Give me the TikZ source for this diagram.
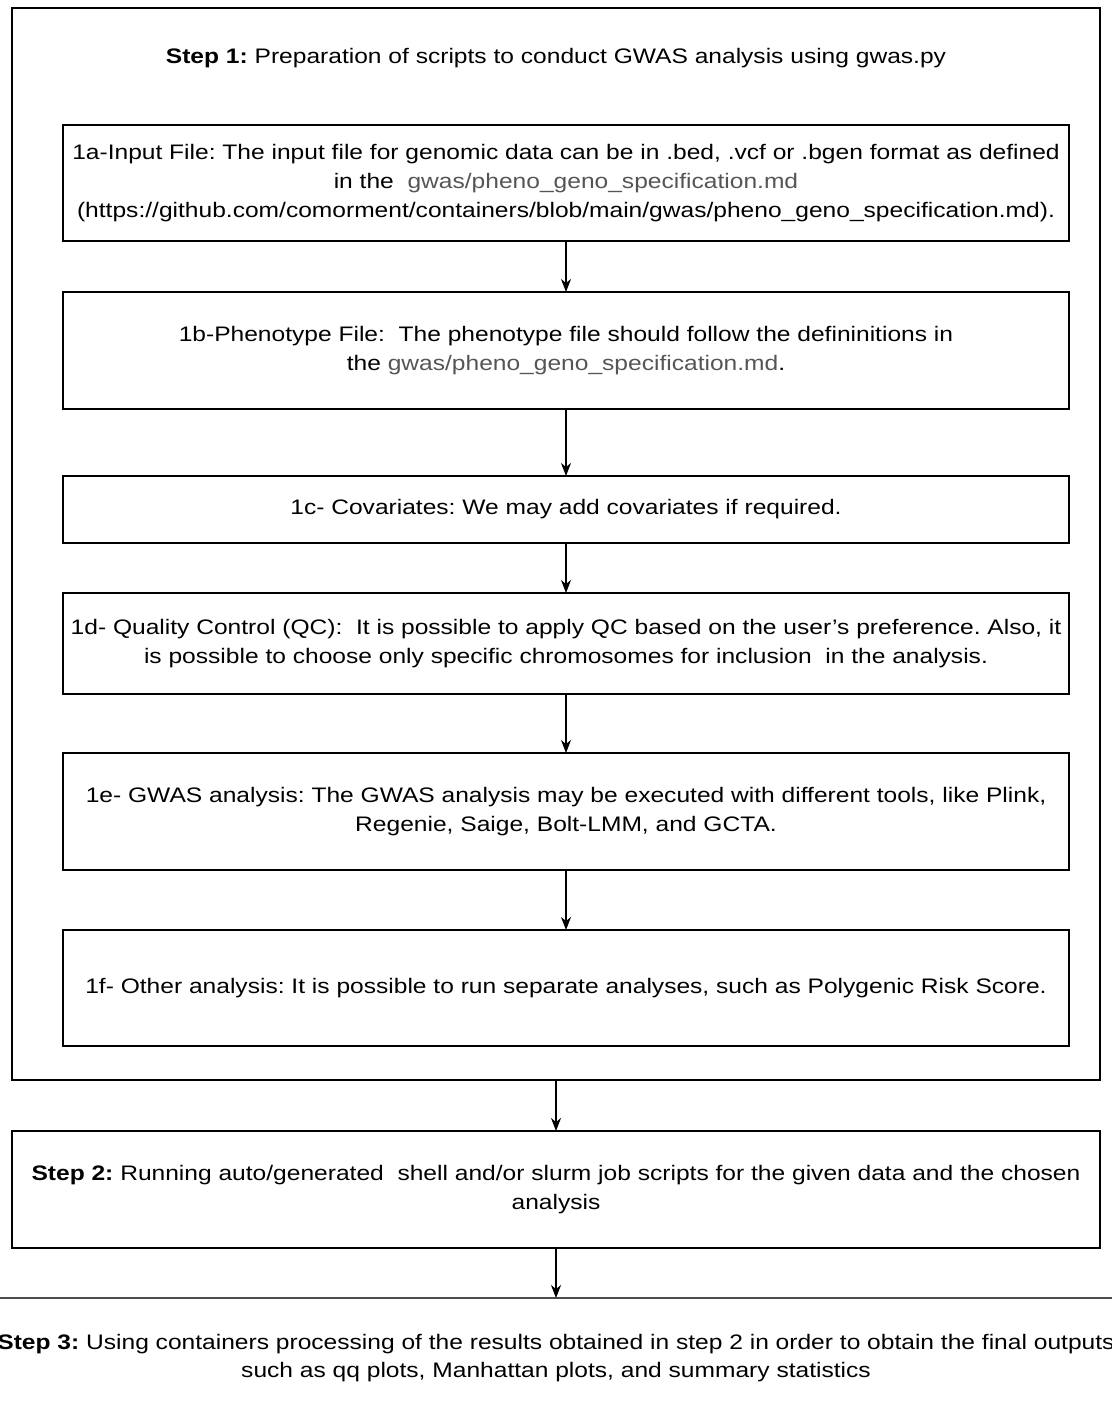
\documentclass[tikz,border=0pt]{standalone}
\usepackage{fontspec}
\setmainfont[FakeStretch=1.17]{Liberation Sans}
\usepackage{tikz}
\usetikzlibrary{arrows.meta}
\definecolor{pathgray}{HTML}{555555}
\newcommand{\mdfile}{{\color{pathgray}gwas/pheno\_geno\_specification.md}}
\frenchspacing

\begin{document}
\begin{tikzpicture}[x=0.5pt, y=-0.5pt,
    every node/.style = {font=\fontsize{10.5}{14.3}\selectfont},
    outer/.style = {rectangle, draw, line width=0.6pt,% big step frames
                    minimum width=544pt, inner sep=0pt, outer sep=0pt},
    sub/.style   = {rectangle, draw, line width=0.6pt, align=center,% sub steps of step 1
                    minimum width=503pt, inner sep=0pt, outer sep=0pt},
    txt/.style   = {align=center, inner sep=0pt},
    arr/.style   = {-{Stealth[length=6.5pt,width=5pt,inset=2pt]}, line width=0.6pt},
                        ]
\clip (0,0) rectangle (1112,1412);
% step 1 frame
\node[outer, minimum height=536pt] (S1) at (556,544) {};
\node[txt] (S1t) at (556,58) {\textbf{Step 1:} Preparation of scripts to conduct GWAS analysis using gwas.py};
% sub steps
\node[sub, minimum height=58pt] (A) at (566,183) {1a-Input File: The input file for genomic data can be in .bed, .vcf or .bgen format as defined\\
 in the \ \mdfile\\
 (https://github.com/comorment/containers/blob/main/gwas/pheno\_geno\_specification.md).};
\node[sub, minimum height=58.5pt] (B) at (566,350.5) {1b-Phenotype File: \ The phenotype file should follow the defininitions in\\
 the \mdfile.};
\node[sub, minimum height=33.5pt] (C) at (566,509.5) {1c- Covariates: We may add covariates if required.};
\node[sub, minimum height=50.5pt] (D) at (566,643.5) {1d- Quality Control (QC): \ It is possible to apply QC based on the user's preference. Also, it\\
 is possible to choose only specific chromosomes for inclusion \ in the analysis.};
\node[sub, minimum height=58.5pt] (E) at (566,811.5) {1e- GWAS analysis: The GWAS analysis may be executed with different tools, like Plink,\\
 Regenie, Saige, Bolt-LMM, and GCTA.};
\node[sub, minimum height=58pt] (F) at (566,988) {1f- Other analysis: It is possible to run separate analyses, such as Polygenic Risk Score.};
% step 2 and 3
\node[outer, minimum height=58.5pt, align=center] (S2) at (556,1189.5) {\textbf{Step 2:} Running auto/generated \ shell and/or slurm job scripts for the given data and the chosen\\
 analysis};
\node[outer, minimum width=580pt, minimum height=60pt, align=center, draw=black!70, line width=1pt] (S3) at (556,1358) {\textbf{Step 3:} Using containers processing of the results obtained in step 2 in order to obtain the final outputs\\
 such as qq plots, Manhattan plots, and summary statistics};
% arrows
\foreach \a/\b in {A/B,B/C,C/D,D/E,E/F,S1/S2,S2/S3}
    \draw[arr] (\a.south) -- (\b.north);
\end{tikzpicture}
\end{document}
